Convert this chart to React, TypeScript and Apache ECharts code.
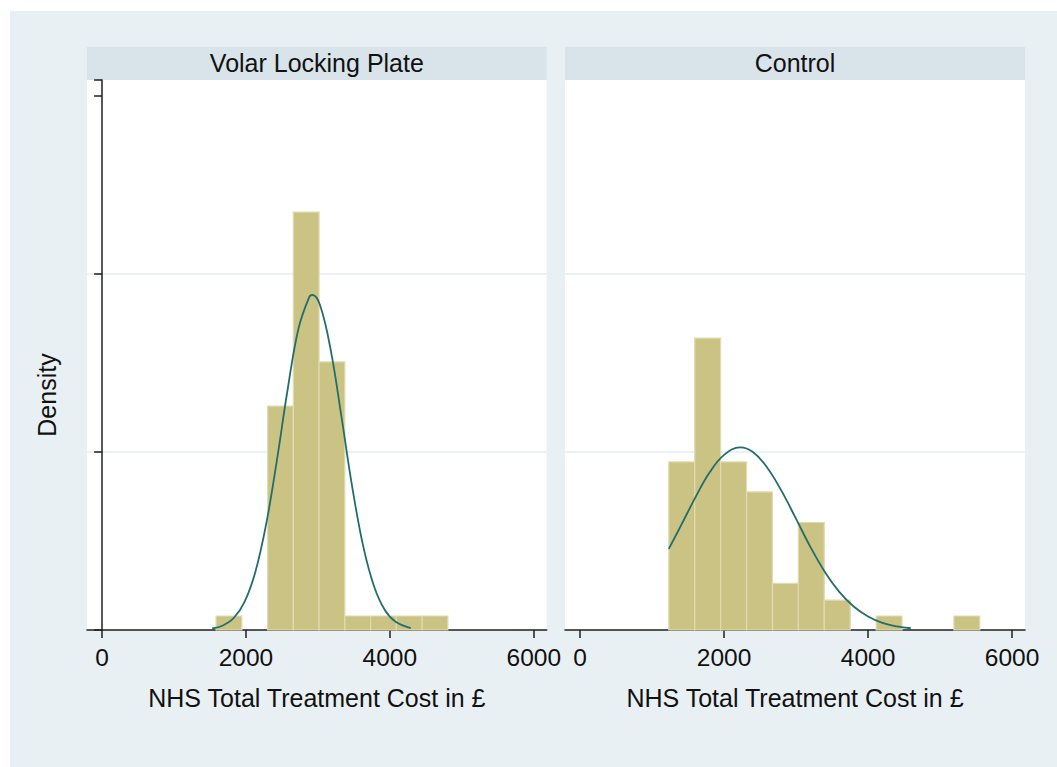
import React, { useEffect, useRef } from "react";
import * as echarts from "echarts";

const panelTitles = ["Volar Locking Plate", "Control"];
const xTicks = [0, 2000, 4000, 6000];
const yTicks = [0, 0.0005, 0.001, 0.0015];
const xAxisTitle = "NHS Total Treatment Cost in £";
const yAxisTitle = "Density";

// Histogram bins (edges) and densities
const vlpBinEdges = [1584, 1942, 2300, 2658, 3016, 3374, 3732, 4090, 4448, 4806];
const vlpDensity = [0.0000393, 0, 0.000629, 0.001174, 0.000753, 0.0000393, 0.0000393, 0.0000393, 0.0000393];

const controlBinEdges = [1232, 1592, 1952, 2312, 2672, 3032, 3392, 3752, 4112, 4472, 4832, 5192, 5552];
const controlDensity = [0.000472, 0.00082, 0.000472, 0.000388, 0.000131, 0.000302, 0.000084, 0, 0.0000393, 0, 0, 0.0000393];

// Normal density overlays
const vlpCurveX = [1530, 1680, 1830, 1980, 2130, 2280, 2430, 2580, 2730, 2880, 2924, 3030, 3180, 3330, 3480, 3630, 3780, 3930, 4080, 4290];
const vlpCurveY = [0.0000042, 0.0000127, 0.0000337, 0.000079, 0.000163, 0.000297, 0.000477, 0.000677, 0.000847, 0.000936, 0.000941, 0.000912, 0.000784, 0.000595, 0.000398, 0.000235, 0.000123, 0.000056, 0.000023, 0.0000052];

const controlCurveX = [1232, 1400, 1600, 1800, 2000, 2223, 2400, 2600, 2800, 3000, 3200, 3400, 3600, 3800, 4000, 4200, 4400, 4594];
const controlCurveY = [0.000228, 0.000293, 0.000372, 0.000443, 0.000492, 0.000513, 0.0005, 0.000456, 0.00039, 0.000312, 0.000233, 0.000163, 0.000107, 0.000066, 0.000038, 0.00002, 0.00001, 0.0000049];

const FONT = '"Liberation Sans", Arial, sans-serif';
const OUTER_BG = "#e9f0f3";
const STRIP_BG = "#d8e4ea";
const BAR_FILL = "#cbc384";
const BAR_EDGE = "#e0dbb0";
const CURVE = "#236e6b";
const AXIS = "#1f1f1f";
const GRIDLINE = "#e3ecf0";
const TEXT = "#111";

const binsToData = (edges: number[], dens: number[]) =>
  dens
    .map((d, i) => [edges[i], edges[i + 1], d])
    .filter((r) => r[2] > 0);

const pairs = (xs: number[], ys: number[]) => xs.map((x, i) => [x, ys[i]]);

const renderBar = (params: any, api: any) => {
  const x0 = api.value(0);
  const x1 = api.value(1);
  const d = api.value(2);
  const p0 = api.coord([x0, d]);
  const p1 = api.coord([x1, 0]);
  return {
    type: "rect",
    shape: { x: p0[0], y: p0[1], width: p1[0] - p0[0], height: p1[1] - p0[1] },
    style: { fill: BAR_FILL, stroke: BAR_EDGE, lineWidth: 1.2 },
  };
};

const grids = [
  { left: 87, top: 80, width: 459.7, height: 550 },
  { left: 565, top: 80, width: 460, height: 550 },
];

export default function App() {
  const ref = useRef<HTMLDivElement>(null);
  useEffect(() => {
    document.body.style.margin = "0";
    const chart = echarts.init(ref.current!, undefined, { renderer: "svg" });

    const xAxisBase = (gridIndex: number) => ({
      type: "value",
      gridIndex,
      min: -210,
      max: 6180,
      name: xAxisTitle,
      nameLocation: "middle",
      nameGap: 55,
      nameTextStyle: { fontFamily: FONT, fontSize: 25, color: TEXT },
      axisLine: { show: true, onZero: false, lineStyle: { color: AXIS, width: 1.5 } },
      axisTick: { show: true, length: 8, customValues: xTicks, lineStyle: { color: AXIS, width: 1.5 } },
      axisLabel: {
        show: true,
        customValues: xTicks,
        margin: 15,
        fontFamily: FONT,
        fontSize: 24.5,
        color: TEXT,
        formatter: (v: number) => String(v),
      },
      splitLine: { show: false },
    });

    const yAxisBase = (gridIndex: number, showAxis: boolean) => ({
      type: "value",
      gridIndex,
      min: yTicks[0],
      max: 0.001545,
      interval: yTicks[1] - yTicks[0],
      axisLine: { show: showAxis, lineStyle: { color: AXIS, width: 1.5 } },
      axisTick: { show: showAxis, length: 8, lineStyle: { color: AXIS, width: 1.5 } },
      axisLabel: { show: false },
      splitLine: {
        show: true,
        lineStyle: { color: ["rgba(0,0,0,0)", GRIDLINE, GRIDLINE, "rgba(0,0,0,0)"], width: 1.5 },
      },
    });

    const option: any = {
      animation: false,
      backgroundColor: "#ffffff",
      grid: grids.map((g) => ({
        ...g,
        show: true,
        backgroundColor: "#ffffff",
        borderWidth: 0,
        containLabel: false,
      })),
      xAxis: [xAxisBase(0), xAxisBase(1)],
      yAxis: [yAxisBase(0, true), yAxisBase(1, false)],
      graphic: [
        {
          type: "rect",
          z: -100,
          silent: true,
          shape: { x: 10, y: 11, width: 1047, height: 756 },
          style: { fill: OUTER_BG },
        },
        {
          type: "text",
          x: 47,
          y: 395,
          rotation: Math.PI / 2,
          style: {
            text: yAxisTitle,
            font: `25px ${FONT}`,
            fill: TEXT,
            align: "center",
            verticalAlign: "middle",
            textAlign: "center",
            textVerticalAlign: "middle",
          },
        },
        ...grids.map((g, i) => ({
          type: "group",
          children: [
            {
              type: "rect",
              shape: { x: g.left, y: 47, width: g.width, height: 33 },
              style: { fill: STRIP_BG },
            },
            {
              type: "text",
              x: g.left + g.width / 2,
              y: 63,
              style: {
                text: panelTitles[i],
                font: `25px ${FONT}`,
                fill: TEXT,
                align: "center",
                verticalAlign: "middle",
                textAlign: "center",
                textVerticalAlign: "middle",
              },
            },
          ],
        })),
      ],
      series: [
        {
          type: "custom",
          xAxisIndex: 0,
          yAxisIndex: 0,
          renderItem: renderBar,
          encode: { x: [0, 1], y: 2 },
          data: binsToData(vlpBinEdges, vlpDensity),
          z: 2,
        },
        {
          type: "custom",
          xAxisIndex: 1,
          yAxisIndex: 1,
          renderItem: renderBar,
          encode: { x: [0, 1], y: 2 },
          data: binsToData(controlBinEdges, controlDensity),
          z: 2,
        },
        {
          type: "line",
          xAxisIndex: 0,
          yAxisIndex: 0,
          data: pairs(vlpCurveX, vlpCurveY),
          smooth: 0.4,
          showSymbol: false,
          lineStyle: { color: CURVE, width: 1.8 },
          z: 5,
        },
        {
          type: "line",
          xAxisIndex: 1,
          yAxisIndex: 1,
          data: pairs(controlCurveX, controlCurveY),
          smooth: 0.4,
          showSymbol: false,
          lineStyle: { color: CURVE, width: 1.8 },
          z: 5,
        },
      ],
    };
    chart.setOption(option);
    return () => chart.dispose();
  }, []);
  return <div ref={ref} style={{ width: 1057, height: 767 }} />;
}
